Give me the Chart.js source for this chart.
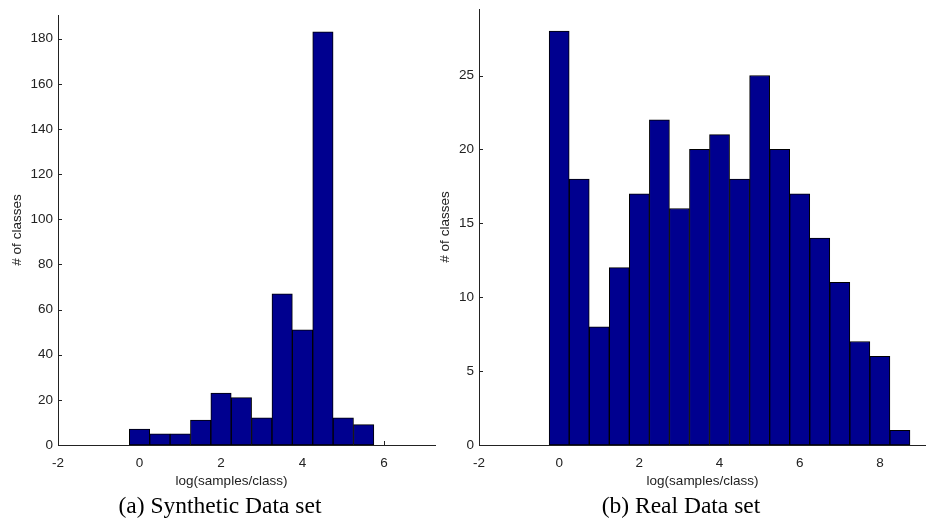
<!DOCTYPE html>
<html>
<head>
<meta charset="utf-8">
<script src="https://cdn.jsdelivr.net/npm/chart.js@4.4.0/dist/chart.umd.min.js"></script>
<style>
  body { margin: 0; background: #fff; width: 926px; height: 523px; overflow: hidden; position: relative; }
  canvas { position: absolute; top: 0; }
  .caption { position: absolute; top: 491px; line-height: 28px; font-family: "Liberation Serif", "DejaVu Serif", serif; font-size: 23.5px; color: #000; text-align: center; }
</style>
</head>
<body>
<canvas id="chartA" width="440" height="495" style="left:0"></canvas>
<canvas id="chartB" width="496" height="495" style="left:430px"></canvas>
<div class="caption" style="left:0;width:440px">(a) Synthetic Data set</div>
<div class="caption" style="left:430px;width:502px">(b) Real Data set</div>
<script>
// (a) synthetic data set: bin centres and counts
const synthBins = [0, 0.5, 1, 1.5, 2, 2.5, 3, 3.5, 4, 4.5, 5, 5.5];
const synthCounts = [7, 5, 5, 11, 23, 21, 12, 67, 51, 183, 12, 9];
const synthXTicks = [-2, 0, 2, 4, 6];
const synthYTicks = [0, 20, 40, 60, 80, 100, 120, 140, 160, 180];

// (b) real data set
const realBins = [0, 0.5, 1, 1.5, 2, 2.5, 3, 3.5, 4, 4.5, 5, 5.5, 6, 6.5, 7, 7.5, 8, 8.5];
const realCounts = [28, 18, 8, 12, 17, 22, 16, 20, 21, 18, 25, 20, 17, 14, 11, 7, 6, 1];
const realXTicks = [-2, 0, 2, 4, 6, 8];
const realYTicks = [0, 5, 10, 15, 20, 25];

const xTitle = 'log(samples/class)';
const yTitle = '# of classes';

const axisColor = '#222';
const tickFont = { family: 'Liberation Sans, Arial, sans-serif', size: 13.5 };
const titleFont = { family: 'Liberation Sans, Arial, sans-serif', size: 13.5 };

// matlab style ticks pointing into the plot, drawn under the bars
const inwardTicks = {
    id: 'inwardTicks',
    beforeDatasetsDraw(chart) {
        const { ctx, chartArea, scales } = chart;
        ctx.save();
        ctx.strokeStyle = axisColor;
        ctx.lineWidth = 1;
        ctx.beginPath();
        scales.x.ticks.forEach(t => {
            const px = Math.round(scales.x.getPixelForValue(t.value)) + 0.5;
            ctx.moveTo(px, chartArea.bottom);
            ctx.lineTo(px, chartArea.bottom - 4);
        });
        scales.y.ticks.forEach(t => {
            const py = Math.round(scales.y.getPixelForValue(t.value)) + 0.5;
            ctx.moveTo(chartArea.left, py);
            ctx.lineTo(chartArea.left + 4, py);
        });
        ctx.stroke();
        ctx.restore();
    }
};

function makeHist(id, bins, counts, cfg) {
    const ctx = document.getElementById(id).getContext('2d');
    return new Chart(ctx, {
        type: 'bar',
        data: {
            datasets: [{
                data: bins.map((b, i) => ({ x: b, y: counts[i] })),
                backgroundColor: '#00008f',
                borderColor: '#000',
                borderWidth: 1,
                borderSkipped: false,
                categoryPercentage: 1,
                barPercentage: 1
            }]
        },
        options: {
            responsive: false,
            animation: false,
            layout: { padding: cfg.padding },
            plugins: { legend: { display: false }, tooltip: { enabled: false } },
            scales: {
                x: {
                    type: 'linear',
                    offset: false,
                    min: cfg.xMin,
                    max: cfg.xMax,
                    afterBuildTicks: s => { s.ticks = cfg.xTicks.map(v => ({ value: v })); },
                    afterFit: s => { s.height = 50; },
                    grid: { display: false, drawTicks: false },
                    border: { display: true, color: axisColor, width: 1 },
                    ticks: { padding: 10, font: tickFont, color: axisColor, maxRotation: 0, autoSkip: false },
                    // trailing spaces nudge the centred label left like in the original figure
                    title: { display: true, text: xTitle + '\u00a0'.repeat(cfg.xTitleNudge), font: titleFont, color: axisColor, padding: { top: 0, bottom: 6 } }
                },
                y: {
                    min: 0,
                    max: cfg.yMax,
                    afterBuildTicks: s => { s.ticks = cfg.yTicks.map(v => ({ value: v })); },
                    afterFit: s => { s.width = cfg.yWidth; s.paddingTop = 0; s.paddingBottom = 0; },
                    grid: { display: false, drawTicks: false },
                    border: { display: true, color: axisColor, width: 1 },
                    ticks: { padding: 5, font: tickFont, color: axisColor, autoSkip: false },
                    title: { display: true, text: yTitle, font: titleFont, color: axisColor, padding: { top: cfg.yTitlePad, bottom: 0 } }
                }
            }
        },
        plugins: [inwardTicks]
    });
}

makeHist('chartA', synthBins, synthCounts, {
    xMin: -2, xMax: 7.25, yMax: 190.5,
    xTicks: synthXTicks, yTicks: synthYTicks,
    yWidth: 58, yTitlePad: 9, xTitleNudge: 8,
    padding: { top: 15, right: 5, left: 0, bottom: 0 }
});

makeHist('chartB', realBins, realCounts, {
    xMin: -2, xMax: 9.15, yMax: 29.5,
    xTicks: realXTicks, yTicks: realYTicks,
    yWidth: 49, yTitlePad: 7, xTitleNudge: 0,
    padding: { top: 9, right: 0, left: 0, bottom: 0 }
});
</script>
</body>
</html>
